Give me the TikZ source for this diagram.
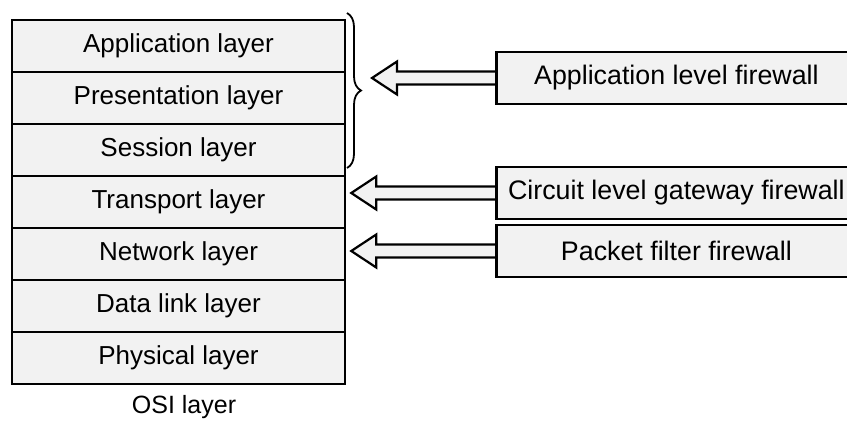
\documentclass[tikz,border=0pt]{standalone}
\usepackage{fontspec}
\setmainfont{Liberation Sans}
\usetikzlibrary{calc,backgrounds,decorations.pathreplacing}
\definecolor{scan}{gray}{0.95}
\tikzset{
  layerbox/.style={draw,line width=2.5pt,fill=scan,minimum width=333pt,minimum height=52pt,
    inner sep=0pt,font=\fontsize{26}{30}\selectfont},
  fwbox/.style={layerbox,anchor=west,minimum width=360pt,line width=2.8pt,
    font=\fontsize{26.8}{30}\selectfont},
  hollowarrow/.style={draw,line width=2.2pt,fill=scan,
    to path={($(\tikztostart)+(0,6.5)$) -- ($(\tikztotarget)+(25,6.5)$) -- ($(\tikztotarget)+(25,16.5)$)
      -- (\tikztotarget) -- ($(\tikztotarget)+(25,-16.5)$) -- ($(\tikztotarget)+(25,-6.5)$)
      -- ($(\tikztostart)+(0,-6.5)$)}},
  layerbrace/.style={decorate,decoration={brace,amplitude=14pt},line width=1.8pt}
}
\begin{document}
\begin{tikzpicture}[x=1pt,y=-1pt]
\useasboundingbox (0,0) rectangle (847,421);
\clip (0,0) rectangle (847,421);
% OSI stack
\foreach \i/\lab in {1/{Application layer},2/{Presentation layer},3/{Session layer},
  4/{Transport layer},5/{Network layer},6/{Data link layer},7/{Physical layer}}{
  \node[layerbox] (L\i) at (178.5,{52*\i-6}) {\lab};
}
\node[font=\fontsize{25}{30}\selectfont] (osi) at (184,407) {OSI layer};
% firewalls
\node[fwbox] (appfw) at (495,78) {Application level firewall};
\node[fwbox] (circfw) at (495,193) {Circuit level gateway firewall};
\node[fwbox] (pktfw) at (495,251) {Packet filter firewall};
\coordinate (bracetop) at (347,13);
\coordinate (bracebot) at (347,168);
\draw[layerbrace] (bracetop) -- (bracebot);
\coordinate (apptip) at (372,78);
\coordinate (circtip) at ($(circfw.west -| L4.east)+(5,0)$);
\coordinate (pkttip) at ($(pktfw.west -| L5.east)+(5,0)$);
\begin{scope}[on background layer]
\draw[hollowarrow] (appfw.west) to (apptip);
\draw[hollowarrow] (circfw.west) to (circtip);
\draw[hollowarrow] (pktfw.west) to (pkttip);
\end{scope}
\end{tikzpicture}
\end{document}
